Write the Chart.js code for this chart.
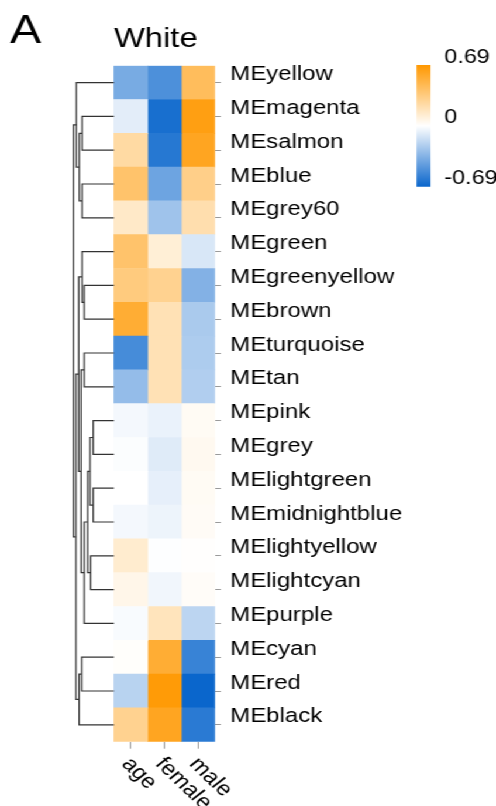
<!DOCTYPE html>
<html>
<head>
<meta charset="utf-8">
<script src="https://cdn.jsdelivr.net/npm/chart.js@4.4.1/dist/chart.umd.min.js"></script>
<style>
  html, body { margin: 0; padding: 0; background: #fff; overflow: hidden; }
  /* the figure is wider than it is tall in the original print, so draw at 424 wide and stretch */
  #wrap { position: absolute; left: 0; top: 0; width: 424px; height: 806px;
          transform: scaleX(1.16981); transform-origin: 0 0; }
  #heat { position: absolute; left: 0; top: 0; }
  #key { position: absolute; left: 340px; top: 30px; }
</style>
</head>
<body>
<div id="wrap">
  <canvas id="heat" width="424" height="806"></canvas>
  <canvas id="key" width="84" height="180"></canvas>
</div>
<script>
const panelLetter = 'A';
const panelTitle = 'White';

const rowNames = ['MEyellow', 'MEmagenta', 'MEsalmon', 'MEblue', 'MEgrey60', 'MEgreen',
  'MEgreenyellow', 'MEbrown', 'MEturquoise', 'MEtan', 'MEpink', 'MEgrey', 'MElightgreen',
  'MEmidnightblue', 'MElightyellow', 'MElightcyan', 'MEpurple', 'MEcyan', 'MEred', 'MEblack'];
const colNames = ['age', 'female', 'male'];

const ageValues = [-0.38, -0.08, 0.25, 0.40, 0.15, 0.40, 0.35, 0.55, -0.52, -0.30,
  -0.03, -0.01, 0.00, -0.03, 0.13, 0.06, -0.02, 0.01, -0.20, 0.30];
const femaleValues = [-0.50, -0.65, -0.61, -0.41, -0.27, 0.11, 0.30, 0.20, 0.20, 0.20,
  -0.06, -0.09, -0.07, -0.05, -0.005, -0.04, 0.18, 0.55, 0.67, 0.60];
const maleValues = [0.44, 0.64, 0.60, 0.32, 0.22, -0.11, -0.35, -0.24, -0.23, -0.22,
  0.03, 0.04, 0.03, 0.025, 0.005, 0.02, -0.19, -0.56, -0.69, -0.60];

// row dendrogram, hclust style: negative = leaf (row), positive = earlier merge
const mergeA = [-2, -4, 1, -1, -7, -6, -9, -11, -13, 8, -15, 10, 12, 7, 6, -18, 16, 15, 4];
const mergeB = [-3, -5, 2, 3, -8, 5, -10, -12, -14, 9, -16, 11, -17, 13, 14, -19, -20, 17, 18];
const mergeHeight = [1.60, 1.60, 1.74, 1.89, 1.49, 1.60, 1.49, 1.04, 1.04, 1.20,
  1.17, 1.32, 1.49, 1.65, 1.77, 1.62, 1.75, 1.91, 2.04];

const colorLimit = 0.69;
const legendTicks = [-0.69, 0, 0.69];

const FONT = '"Liberation Sans", Arial, Helvetica, sans-serif';
Chart.defaults.font.family = FONT;
Chart.defaults.color = '#000';

const hiColor = [255, 152, 0];
const loColor = [10, 102, 204];
function cellColor(v) {
  const t = Math.min(Math.abs(v) / colorLimit, 1);
  const end = v >= 0 ? hiColor : loColor;
  const c = end.map(e => Math.round(255 + (e - 255) * t));
  return 'rgb(' + c.join(',') + ')';
}

// the tree sits left of column 0 on the same x scale: height h -> x = -h * treeScale
const dendroShare = 0.2935;   // part of the plot width used by the tree
const dendroTop = 2.11;
const heatMin = -3 * dendroShare / (1 - dendroShare);
const treeScale = -heatMin / dendroTop;

const columns = [ageValues, femaleValues, maleValues];
const heatSets = columns.map((vals, c) => ({
  type: 'bar',
  indexAxis: 'y',
  data: rowNames.map((_, i) => ({ x: [c, c + 1], y: i })),
  backgroundColor: vals.map(cellColor),
  borderWidth: 0,
  barPercentage: 1,
  categoryPercentage: 1,
  grouped: false,
  order: 2
}));

const nodeY = [];
const posOf = id => id < 0 ? -id - 1 : nodeY[id - 1];
const hOf = id => id < 0 ? 0 : mergeHeight[id - 1];
const treeSets = mergeA.map((a, k) => {
  const b = mergeB[k];
  const h = mergeHeight[k];
  const ya = posOf(a), yb = posOf(b);
  nodeY[k] = (ya + yb) / 2;
  const pts = [[hOf(a), ya], [h, ya], [h, yb], [hOf(b), yb]];
  return {
    type: 'line',
    data: pts.map(p => ({ x: -p[0] * treeScale, y: p[1] })),
    borderColor: '#333',
    borderWidth: 1.2,
    pointRadius: 0,
    fill: false,
    tension: 0,
    order: 1
  };
});

const textPlugin = {
  id: 'panelText',
  afterDraw(chart) {
    const { ctx, chartArea, scales } = chart;
    ctx.save();
    ctx.fillStyle = '#000';
    ctx.textAlign = 'left';
    ctx.textBaseline = 'alphabetic';
    ctx.font = '40px ' + FONT;
    ctx.fillText(panelLetter, 8.5, 42.7);
    ctx.font = '28px ' + FONT;
    ctx.fillText(panelTitle, scales.x.getPixelForValue(0), 46.7);
    ctx.font = '20.5px ' + FONT;
    ctx.textBaseline = 'middle';
    colNames.forEach((name, c) => {
      const px = scales.x.getPixelForValue(c + 0.5);
      ctx.save();
      ctx.translate(px - 4.3, chartArea.bottom + 19);
      ctx.rotate(48 * Math.PI / 180);
      ctx.fillText(name, 0, 0);
      ctx.restore();
    });
    ctx.restore();
  }
};

new Chart(document.getElementById('heat'), {
  type: 'bar',
  data: { datasets: heatSets.concat(treeSets) },
  options: {
    responsive: false,
    animation: false,
    layout: { padding: { top: 65.7, left: 61.5, right: 0, bottom: 0 } },
    plugins: { legend: { display: false }, tooltip: { enabled: false } },
    scales: {
      x: {
        type: 'linear',
        position: 'bottom',
        min: heatMin,
        max: 3,
        offset: false,
        afterBuildTicks: s => { s.ticks = colNames.map((_, c) => ({ value: c + 0.5 })); },
        afterFit: s => { s.height = 64.3; },
        ticks: { display: false },
        grid: { offset: false, drawOnChartArea: false, drawTicks: true, tickLength: 7, color: '#9a9a9a' },
        border: { display: false }
      },
      y: {
        type: 'linear',
        position: 'right',
        reverse: true,
        min: -0.5,
        max: rowNames.length - 0.5,
        offset: false,
        afterBuildTicks: s => { s.ticks = rowNames.map((_, i) => ({ value: i })); },
        afterFit: s => { s.width = 424 - 183.8; },
        ticks: {
          autoSkip: false,
          padding: 8,
          labelOffset: -8,
          font: { size: 20.5 },
          callback: v => rowNames[v]
        },
        grid: { offset: false, drawOnChartArea: false, drawTicks: true, tickLength: 5, color: '#9a9a9a' },
        border: { display: false }
      }
    }
  },
  plugins: [textPlugin]
});

// colour key
new Chart(document.getElementById('key'), {
  type: 'bar',
  data: {
    labels: ['key'],
    datasets: [{
      data: [[-colorLimit, colorLimit]],
      borderWidth: 0,
      barPercentage: 1,
      categoryPercentage: 1,
      backgroundColor: (context) => {
        const chart = context.chart;
        const ys = chart.scales.y;
        if (!chart.chartArea || !ys) return cellColor(0);
        const g = chart.ctx.createLinearGradient(0, ys.getPixelForValue(-colorLimit), 0, ys.getPixelForValue(colorLimit));
        g.addColorStop(0, cellColor(-colorLimit));
        g.addColorStop(0.5, cellColor(0));
        g.addColorStop(1, cellColor(colorLimit));
        return g;
      }
    }]
  },
  options: {
    responsive: false,
    animation: false,
    layout: { padding: { top: 35, left: 16.1, right: 0, bottom: 23.3 } },
    plugins: { legend: { display: false }, tooltip: { enabled: false } },
    scales: {
      x: { display: false },
      y: {
        position: 'right',
        min: -colorLimit,
        max: colorLimit,
        afterBuildTicks: s => { s.ticks = legendTicks.map(v => ({ value: v })); },
        afterFit: s => { s.width = 84 - 28.1; },
        ticks: {
          padding: 3.7,
          labelOffset: -8,
          font: { size: 20 },
          callback: v => v === 0 ? '0' : v.toFixed(2)
        },
        grid: { display: false },
        border: { display: false }
      }
    }
  }
});
</script>
</body>
</html>
